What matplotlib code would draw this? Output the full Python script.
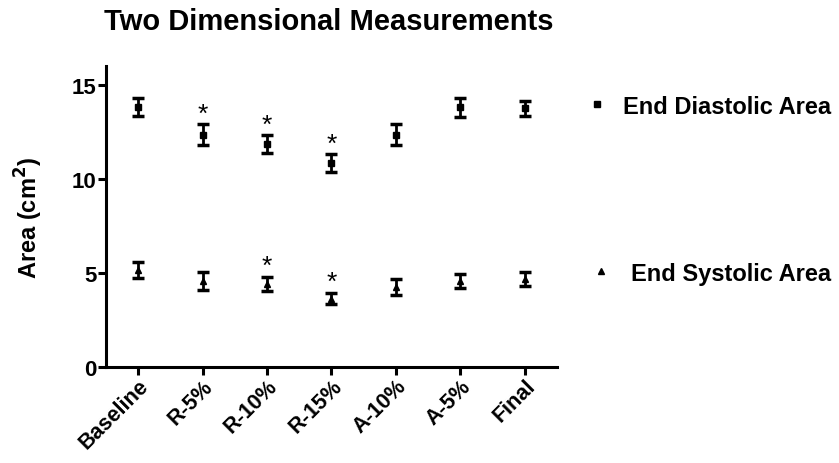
import matplotlib.pyplot as plt
from matplotlib.lines import Line2D

plt.rcParams['font.family'] = ['Liberation Sans', 'DejaVu Sans']
plt.rcParams['font.weight'] = 'bold'

# data
stages = ['Baseline', 'R-5%', 'R-10%', 'R-15%', 'A-10%', 'A-5%', 'Final']
eda_mean = [13.8, 12.35, 11.85, 10.85, 12.35, 13.8, 13.76]
eda_err = [0.48, 0.55, 0.47, 0.46, 0.55, 0.5, 0.4]
esa_mean = [5.16, 4.57, 4.4, 3.64, 4.26, 4.57, 4.69]
esa_err = [0.42, 0.46, 0.38, 0.3, 0.43, 0.38, 0.37]
eda_sig = [False, True, True, True, False, False, False]
esa_sig = [False, False, True, True, False, False, False]

x = list(range(len(stages)))

fig = plt.figure(figsize=(8.39, 4.64), dpi=100)
ax = fig.add_axes([0.1263, 0.2069, 0.5376, 0.6487])

ax.errorbar(x, eda_mean, yerr=eda_err, fmt='s', color='black', ms=5,
            elinewidth=2, capsize=4, capthick=2.5)
ax.errorbar(x, esa_mean, yerr=esa_err, fmt='^', color='black', ms=5,
            elinewidth=2, capsize=4, capthick=2.5)

# significance stars
for i in x:
    if eda_sig[i]:
        ax.text(i, eda_mean[i] + eda_err[i] + 0.55, '*', ha='center', va='center',
                fontsize=19, fontweight='normal')
    if esa_sig[i]:
        ax.text(i, esa_mean[i] + esa_err[i] + 0.6, '*', ha='center', va='center',
                fontsize=19, fontweight='normal')

ax.set_xlim(-0.5, 6.5)
ax.set_ylim(0, 16)
ax.set_yticks([0, 5, 10, 15])
ax.set_xticks(x)
ax.set_xticklabels(stages, rotation=45, ha='right', rotation_mode='anchor',
                   fontsize=15.5, fontweight='bold')
for lab in ax.get_yticklabels():
    lab.set_fontsize(16)
    lab.set_fontweight('bold')

for s in ['top', 'right']:
    ax.spines[s].set_visible(False)
for s in ['left', 'bottom']:
    ax.spines[s].set_linewidth(2.2)
ax.tick_params(axis='both', direction='out', length=5.5, width=2.2, pad=1.5)
ax.tick_params(axis='x', pad=0.5)

ax.set_ylabel('Area (cm$^\\mathbf{2}$)', fontsize=17, fontweight='bold')
ax.yaxis.set_label_coords(-0.135, 0.5)
fig.text(0.392, 0.952, 'Two Dimensional Measurements', ha='center', va='center',
         fontsize=21, fontweight='bold')

h1 = Line2D([], [], marker='s', color='black', ls='none', ms=5)
h2 = Line2D([], [], marker='^', color='black', ls='none', ms=5)
leg1 = ax.legend([h1], ['End Diastolic Area'], loc='center left',
                 bbox_to_anchor=(1.042, 0.867), frameon=False, handlelength=1.0,
                 handletextpad=0.6, borderaxespad=0,
                 prop={'size': 17, 'weight': 'bold'})
ax.add_artist(leg1)
ax.legend([h2], ['End Systolic Area'], loc='center left',
          bbox_to_anchor=(1.051, 0.312), frameon=False, handlelength=1.0,
          handletextpad=0.77, borderaxespad=0,
          prop={'size': 17, 'weight': 'bold'})

fig.savefig('out.png', dpi=100)
